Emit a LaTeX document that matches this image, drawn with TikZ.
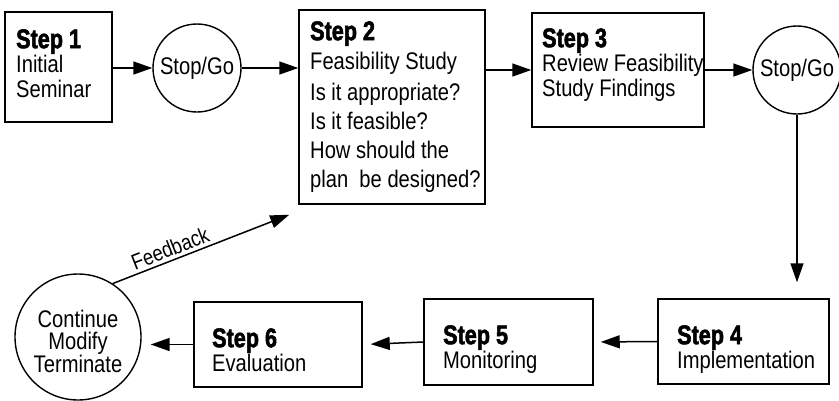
\documentclass[tikz,border=0pt]{standalone}
\usepackage{fontspec}
\setmainfont{Liberation Sans}[FakeStretch=0.84, BoldFeatures={FakeStretch=0.8, FakeBold=2}]
\usetikzlibrary{arrows.meta}
\newcommand{\topstr}{\rule{0pt}{20pt}}
\newcommand{\stephead}[1]{{\fontsize{27}{27}\selectfont\bfseries #1}}
\begin{document}
\begin{tikzpicture}[x=1pt,y=-1pt,
  box/.style={draw, line width=1.5pt, inner sep=0pt},
  txt/.style={anchor=north west, inner sep=0pt, align=left, font=\fontsize{24}{24.5}\selectfont},
  ring/.style={draw, circle, line width=1.4pt, inner sep=0pt},
  ctxt/.style={inner sep=0pt, align=center, font=\fontsize{24}{22.5}\selectfont},
  arr/.style={line width=1.5pt, -{Triangle[length=19pt,width=13pt]}}
]
\useasboundingbox (0,0) rectangle (839,400);

% boxes and circles
\node[box, minimum width=107pt, minimum height=110pt] (s1) at (58.5,67) {};
\node[ring, minimum size=88pt] (c1) at (197,68) {};
\node[box, minimum width=186pt, minimum height=194pt] (s2) at (392,107) {};
\node[box, minimum width=172pt, minimum height=114pt] (s3) at (618,70) {};
\node[ring, minimum size=88pt] (c2) at (797,70) {};
\node[box, minimum width=171pt, minimum height=85pt] (s4) at (743.5,341.5) {};
\node[box, minimum width=169pt, minimum height=86pt] (s5) at (508.5,342) {};
\node[box, minimum width=168pt, minimum height=85pt] (s6) at (278,344.5) {};
\node[ring, minimum size=126pt] (c3) at (78,337) {};

% texts
\node[txt] (t1) at (16,28) {\topstr\stephead{Step 1}\\Initial\\Seminar};
\node[ctxt] (tc1) at (c1) {Stop/Go};
\node[txt, font=\fontsize{24}{29}\selectfont] (t2) at (310,20) {\topstr\stephead{Step 2}\\Feasibility Study\\[2pt]Is it appropriate?\\Is it feasible?\\How should the\\plan\ \ be designed?};
\node[txt] (t3) at (542,27) {\topstr\stephead{Step 3}\\Review Feasibility\\Study Findings};
\node[ctxt] (tc2) at (c2) {Stop/Go};
\node[txt] (t4) at (677,324) {\topstr\stephead{Step 4}\\Implementation};
\node[txt] (t5) at (443,324) {\topstr\stephead{Step 5}\\Monitoring};
\node[txt] (t6) at (212,327) {\topstr\stephead{Step 6}\\Evaluation};
\node[ctxt, anchor=north] (tc3) at (78,307) {\topstr Continue\\Modify\\Terminate};

\coordinate (fb) at ([shift={(-9pt,-10pt)}]s2.south west);

% connectors
\draw[arr] (s1.east |- c1) -- (c1);
\draw[arr] (c1) -- (c1 -| s2.west);
\draw[arr] (s2.east |- s3.west) -- (s3.west);
\draw[arr] (s3.east |- c2) -- (c2);
\draw[arr, shorten >=16pt] (c2) -- (c2 |- s4.north);
\draw[arr, shorten >=7pt] (s4.west) -- (s5.east);
\draw[arr, shorten >=8pt] (s5.west) -- (s6.east);
\draw[arr, shorten >=9pt] (s6.west) -- (s6.west -| c3.east);
\draw[arr] (c3.57) -- (fb) node[pos=0.35, above=2pt, sloped, inner sep=1pt, font=\fontsize{22}{22}\selectfont] (tfb) {Feedback};
\end{tikzpicture}
\end{document}
